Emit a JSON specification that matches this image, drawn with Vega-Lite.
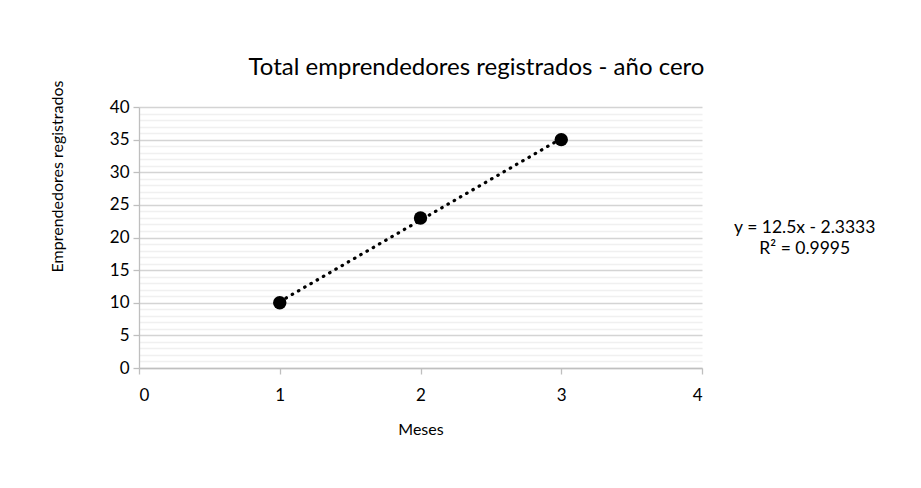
{
  "$schema": "https://vega.github.io/schema/vega-lite/v6.json",
  "autosize": "none",
  "width": 563,
  "height": 261,
  "padding": {"left": 139, "top": 107, "right": 219, "bottom": 120},
  "background": "white",
  "config": {
    "font": "Lato",
    "view": {"stroke": null}
  },
  "title": {
    "text": "Total emprendedores registrados - año cero",
    "fontSize": 24,
    "fontWeight": "normal",
    "color": "#000000",
    "anchor": "middle",
    "baseline": "alphabetic",
    "offset": -19,
    "dx": 56
  },
  "data": {
    "values": [
      {"mes": 1, "emprendedores": 10},
      {"mes": 2, "emprendedores": 23},
      {"mes": 3, "emprendedores": 35}
    ]
  },
  "layer": [
    {
      "encoding": {
        "x": {
          "field": "mes", "type": "quantitative",
          "scale": {"domain": [0, 4], "nice": false, "zero": false},
          "axis": {
            "title": "Meses",
            "values": [0, 1, 2, 3, 4],
            "format": "d",
            "grid": false,
            "domainColor": "#bfbfbf",
            "domainWidth": 1.3,
            "tickColor": "#bfbfbf",
            "tickWidth": 1.3,
            "tickSize": 6,
            "labelFontSize": 17,
            "labelColor": "#000000",
            "labelPadding": 13,
            "titleFontSize": 16,
            "titleFontWeight": "normal",
            "titleColor": "#000000",
            "titlePadding": 18
          }
        },
        "y": {
          "field": "emprendedores", "type": "quantitative",
          "scale": {"domain": [0, 40], "nice": false},
          "axis": {
            "title": "Emprendedores registrados",
            "values": [0,1,2,3,4,5,6,7,8,9,10,11,12,13,14,15,16,17,18,19,20,21,22,23,24,25,26,27,28,29,30,31,32,33,34,35,36,37,38,39,40],
            "labelExpr": "datum.value % 5 === 0 ? datum.label : ''",
            "labelOverlap": false,
            "grid": true,
            "gridColor": {"condition": {"test": "datum.value % 5 === 0", "value": "#d4d4d4"}, "value": "#f0f0f0"},
            "gridWidth": 1.3,
            "domainColor": "#bfbfbf",
            "domainWidth": 1.3,
            "tickColor": "#bfbfbf",
            "tickOpacity": {"condition": {"test": "datum.value % 5 === 0", "value": 1}, "value": 0},
            "tickWidth": 1.3,
            "tickSize": 6,
            "labelFontSize": 17,
            "labelColor": "#000000",
            "labelPadding": 4,
            "titleFontSize": 16,
            "titleFontWeight": "normal",
            "titleColor": "#000000",
            "titleAnchor": null,
            "titleAlign": "center",
            "titleBaseline": "middle",
            "titleAngle": -90,
            "titleY": 69,
            "titleX": -82
          }
        }
      },
      "layer": [
        {
          "mark": {"type": "line", "color": "#000000", "strokeWidth": 3.2, "strokeDash": [0.5, 6.7], "strokeCap": "round"},
          "transform": [{"regression": "emprendedores", "on": "mes", "method": "linear", "extent": [1, 3]}]
        },
        {
          "mark": {"type": "point", "filled": true, "color": "#000000", "opacity": 1, "size": 180}
        }
      ]
    },
    {
      "data": {"values": [{"texto": ["y = 12.5x - 2.3333", "R² = 0.9995"]}]},
      "mark": {"type": "text", "fontSize": 17.5, "color": "#000000", "align": "center", "baseline": "middle", "lineHeight": 21},
      "encoding": {
        "x": {
          "datum": 4.73, "type": "quantitative",
          "scale": {"domain": [0, 4], "nice": false, "zero": false},
          "axis": {
            "title": "Meses",
            "values": [0, 1, 2, 3, 4],
            "format": "d",
            "grid": false,
            "domainColor": "#bfbfbf",
            "domainWidth": 1.3,
            "tickColor": "#bfbfbf",
            "tickWidth": 1.3,
            "tickSize": 6,
            "labelFontSize": 17,
            "labelColor": "#000000",
            "labelPadding": 13,
            "titleFontSize": 16,
            "titleFontWeight": "normal",
            "titleColor": "#000000",
            "titlePadding": 18
          }
        },
        "y": {
          "datum": 21.5, "type": "quantitative",
          "scale": {"domain": [0, 40], "nice": false},
          "axis": {
            "title": "Emprendedores registrados",
            "values": [0,1,2,3,4,5,6,7,8,9,10,11,12,13,14,15,16,17,18,19,20,21,22,23,24,25,26,27,28,29,30,31,32,33,34,35,36,37,38,39,40],
            "labelExpr": "datum.value % 5 === 0 ? datum.label : ''",
            "labelOverlap": false,
            "grid": true,
            "gridColor": {"condition": {"test": "datum.value % 5 === 0", "value": "#d4d4d4"}, "value": "#f0f0f0"},
            "gridWidth": 1.3,
            "domainColor": "#bfbfbf",
            "domainWidth": 1.3,
            "tickColor": "#bfbfbf",
            "tickOpacity": {"condition": {"test": "datum.value % 5 === 0", "value": 1}, "value": 0},
            "tickWidth": 1.3,
            "tickSize": 6,
            "labelFontSize": 17,
            "labelColor": "#000000",
            "labelPadding": 4,
            "titleFontSize": 16,
            "titleFontWeight": "normal",
            "titleColor": "#000000",
            "titleAnchor": null,
            "titleAlign": "center",
            "titleBaseline": "middle",
            "titleAngle": -90,
            "titleY": 69,
            "titleX": -82
          }
        },
        "text": {"field": "texto"}
      }
    }
  ]
}
